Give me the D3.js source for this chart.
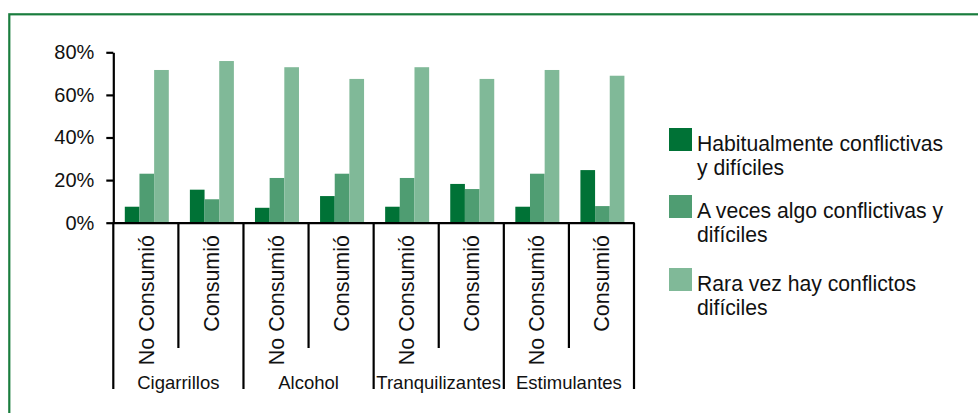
<!DOCTYPE html>
<html>
<head>
<meta charset="utf-8">
<script src="https://cdn.jsdelivr.net/npm/d3@7"></script>
<style>
  body { margin: 0; background: #fff; }
  text { font-family: "Liberation Sans", Arial, sans-serif; fill: #111; }
</style>
</head>
<body>
<div id="chart"></div>
<script>
// data
const groups = ["Cigarrillos", "Alcohol", "Tranquilizantes", "Estimulantes"];
const subCats = ["No Consumió", "Consumió"];
const seriesNames = ["habitual", "aveces", "raravez"];
const legendLines = [
    ["Habitualmente conflictivas", "y difíciles"],
    ["A veces algo conflictivas y", "difíciles"],
    ["Rara vez hay conflictos", "difíciles"]
];
const colors = ["#007236", "#4f9d72", "#80b998"];
// one value per category (group x subCat), order as drawn
const habitual = [7.5, 15.5, 7, 12.5, 7.5, 18.2, 7.5, 24.7];
const aveces   = [23, 11, 21, 23, 21, 15.8, 23, 7.8];
const raravez  = [71.7, 75.9, 73, 67.5, 73, 67.5, 71.7, 69];
const yTicks = [0, 20, 40, 60, 80];

const W = 978, H = 413;
const values = [habitual, aveces, raravez];
const cats = [];
groups.forEach(g => subCats.forEach(s => cats.push({ key: g + "|" + s, group: g, label: s })));

const svg = d3.select("#chart").append("svg")
    .attr("width", W)
    .attr("height", H);

// green frame (runs off the right and bottom edges)
svg.append("rect")
    .attr("x", 9.3).attr("y", 14.3)
    .attr("width", W).attr("height", H)
    .attr("fill", "none")
    .attr("stroke", "#1a7d3e")
    .attr("stroke-width", 2.2);

const x0 = d3.scaleBand().domain(cats.map(d => d.key)).range([113.3, 634]);
const x1 = d3.scaleBand().domain(seriesNames).range([0, 44]);
const y = d3.scaleLinear().domain([0, 80]).range([222.7, 52.3]);
const barOffset = 11.5;

// bars
seriesNames.forEach((s, si) => {
    svg.append("g")
        .selectAll("rect")
        .data(values[si])
        .join("rect")
        .attr("x", (d, i) => x0(cats[i].key) + barOffset + x1(s))
        .attr("y", d => y(d))
        .attr("width", x1.bandwidth())
        .attr("height", d => y(0) - y(d))
        .attr("fill", colors[si]);
});

// y axis
const yAxis = svg.append("g")
    .attr("transform", "translate(113.3,0)")
    .call(d3.axisLeft(y).tickValues(yTicks).tickFormat(d => d + "%").tickSize(7).tickSizeOuter(0).tickPadding(12));
yAxis.selectAll("path, line").attr("stroke", "#000").attr("stroke-width", 2.2);
yAxis.selectAll("text").attr("font-size", 20).attr("font-family", "Liberation Sans, Arial, sans-serif").attr("fill", "#111");

// baseline
const xAxis = svg.append("g")
    .attr("transform", "translate(0," + y(0) + ")")
    .call(d3.axisBottom(x0).tickSize(0).tickSizeOuter(0).tickFormat(""));
xAxis.select("path").attr("stroke", "#000").attr("stroke-width", 2.2);

// category separators: long at group edges, short inside groups
const edges = cats.map(d => x0(d.key)).concat([x0.range()[1]]);
svg.append("g")
    .selectAll("line")
    .data(edges)
    .join("line")
    .attr("x1", d => d).attr("x2", d => d)
    .attr("y1", y(0))
    .attr("y2", (d, i) => i % 2 === 0 ? 389 : 348)
    .attr("stroke", "#000")
    .attr("stroke-width", 2.2);

// rotated sub-category labels
svg.append("g")
    .selectAll("text")
    .data(cats)
    .join("text")
    .attr("transform", d => "translate(" + (x0(d.key) + x0.bandwidth() / 2) + ",235) rotate(-90)")
    .attr("dy", "0.36em")
    .attr("text-anchor", "end")
    .attr("font-size", 21.5)
    .text(d => d.label);

// group labels
svg.append("g")
    .selectAll("text")
    .data(groups)
    .join("text")
    .attr("x", g => (x0(g + "|" + subCats[0]) + x0(g + "|" + subCats[1]) + x0.bandwidth()) / 2)
    .attr("y", 388.5)
    .attr("text-anchor", "middle")
    .attr("font-size", 18.5)
    .text(g => g);

// legend
const legendY = [128, 195, 268];
const legend = svg.append("g")
    .selectAll("g")
    .data(legendLines)
    .join("g")
    .attr("transform", (d, i) => "translate(669," + legendY[i] + ")");
legend.append("rect")
    .attr("width", 23).attr("height", 23)
    .attr("fill", (d, i) => colors[i]);
legend.append("text")
    .attr("font-size", 21.2)
    .selectAll("tspan")
    .data(d => d)
    .join("tspan")
    .attr("x", 28)
    .attr("y", (d, i) => 23 + i * 23.5)
    .text(d => d);
</script>
</body>
</html>
